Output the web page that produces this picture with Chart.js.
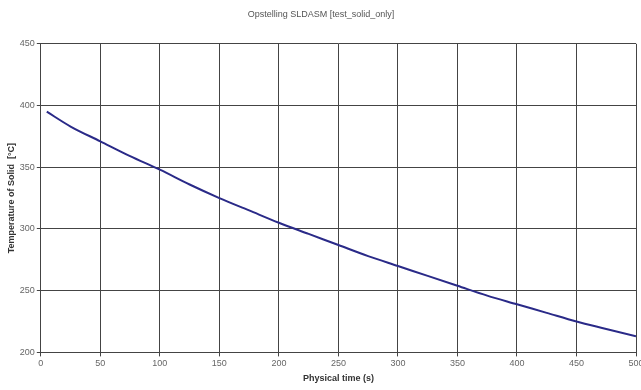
<!DOCTYPE html>
<html><head><meta charset="utf-8">
<script src="https://cdn.jsdelivr.net/npm/chart.js@4"></script>
<style>html,body{margin:0;padding:0;background:#fff}#wrap{width:641px;height:390px}</style>
</head><body><div id="wrap"><canvas id="c"></canvas></div>
<script>
const timeS = [5,25,50,75,100,125,150,175,200,225,250,275,300,325,350,375,400,425,450,475,500];
const tempSolid = [395,383,371,359,348,336,325,315,305,296,287,278,270,262,254,246,239,232,225,219,213];
const chartTitle = 'Opstelling SLDASM [test_solid_only]';
const xTitle = 'Physical time (s)';
const yTitle = 'Temperature of Solid  [°C]';

const pts = timeS.map((t,i)=>({x:t,y:tempSolid[i]}));
new Chart(document.getElementById('c'), {
  type:'line',
  data:{datasets:[{data:pts,borderColor:'#2a2a88',borderWidth:2,pointRadius:0,cubicInterpolationMode:'monotone',fill:false}]},
  options:{
    responsive:true,maintainAspectRatio:false,animation:false,
    layout:{padding:{left:6,right:5,top:0,bottom:4}},
    plugins:{legend:{display:false},tooltip:{enabled:false},
      title:{display:true,text:chartTitle,color:'#555',font:{family:'Liberation Sans',size:9,weight:'normal'},padding:{top:9,bottom:24}}},
    scales:{
      x:{type:'linear',min:0,max:500,
        ticks:{stepSize:50,color:'#666',font:{family:'Liberation Sans',size:9},padding:2},
        grid:{color:'#444',lineWidth:1,tickLength:4},border:{color:'#444'},
        title:{display:true,text:xTitle,color:'#333',font:{family:'Liberation Sans',size:9,weight:'bold'},padding:{top:2,bottom:2}},
        afterFit(s){s.paddingRight=0;}},
      y:{min:200,max:450,
        ticks:{stepSize:50,color:'#666',font:{family:'Liberation Sans',size:9},padding:2},
        grid:{color:'#444',lineWidth:1,tickLength:4},border:{color:'#444'},
        title:{display:true,text:yTitle,color:'#333',font:{family:'Liberation Sans',size:9,weight:'bold'},padding:{top:0,bottom:1}}}
    }
  }
});
</script></body></html>
